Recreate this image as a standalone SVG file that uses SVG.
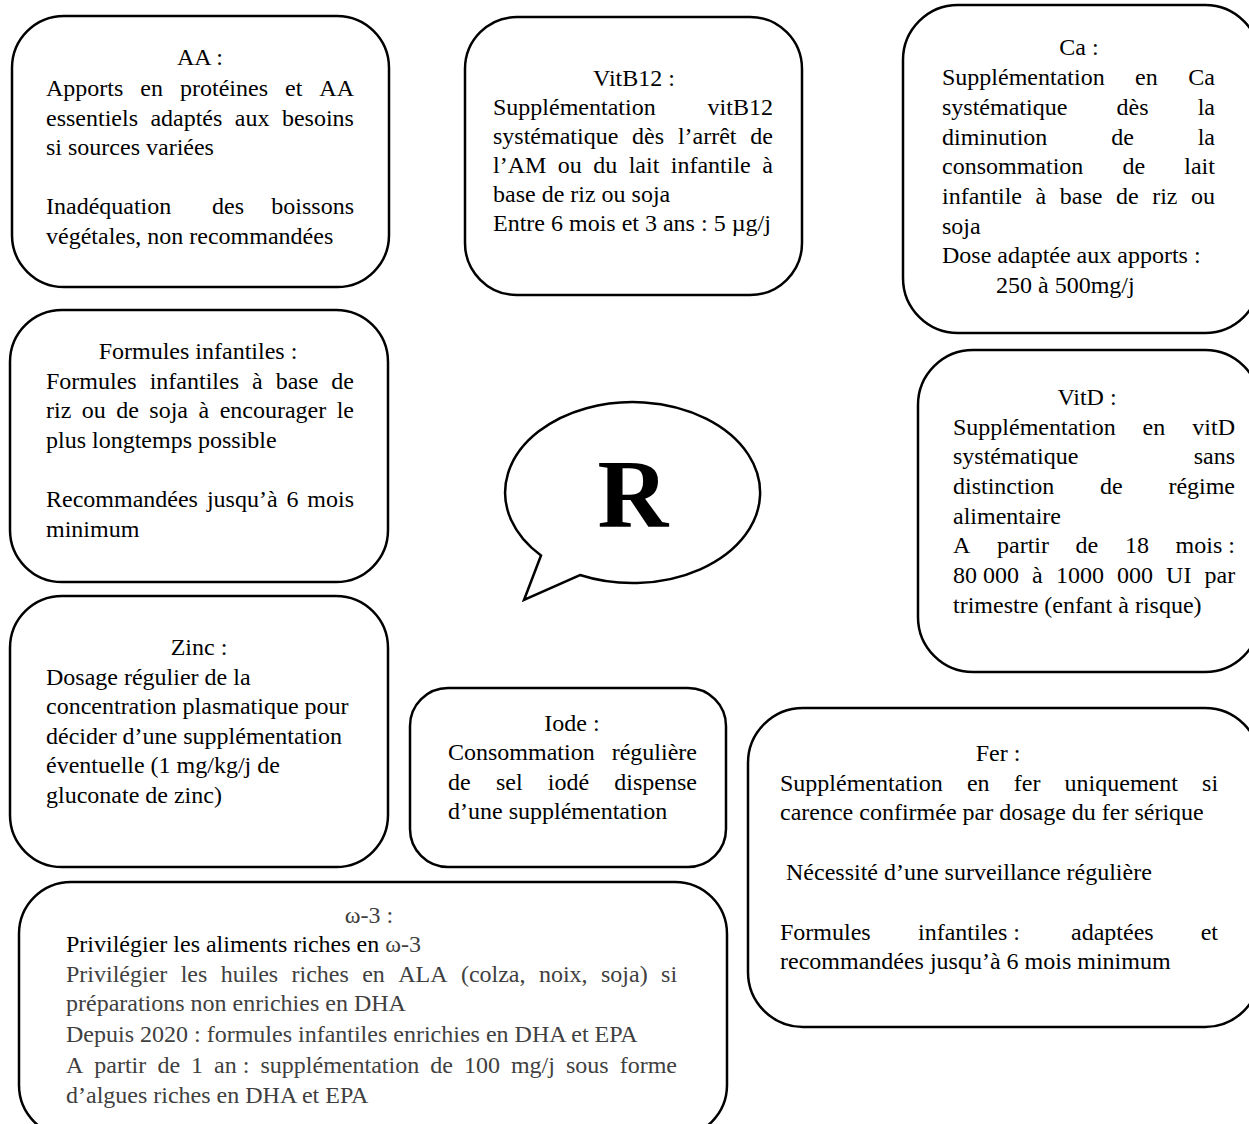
<svg xmlns="http://www.w3.org/2000/svg" width="1249" height="1124" viewBox="0 0 1249 1124">
<style>
.box{fill:#fff;stroke:#000;stroke-width:2.5}
text{font-family:"Liberation Serif","Times New Roman",serif;font-size:24px;fill:#000}
.c{text-anchor:middle}
.g{fill:#404040}
.big{font-size:98px;font-weight:bold;text-anchor:middle}
</style>
<rect width="1249" height="1124" fill="#fff"/>
<g id="connectors"/>

<g id="node-aa">
<rect class="box" x="12" y="16" width="377" height="271" rx="52"/>
<text class="c" x="200" y="65">AA :</text>
<text y="96"><tspan x="46">Apports</tspan><tspan x="140.3">en</tspan><tspan x="180">protéines</tspan><tspan x="285">et</tspan><tspan x="319.3">AA</tspan></text>
<text y="125.5"><tspan x="46">essentiels</tspan><tspan x="150.4">adaptés</tspan><tspan x="234.8">aux</tspan><tspan x="281.9">besoins</tspan></text>
<text x="46" y="155">si sources variées</text>
<text y="214"><tspan x="46">Inadéquation</tspan><tspan x="212">des</tspan><tspan x="271.3">boissons</tspan></text>
<text x="46" y="243.5">végétales, non recommandées</text>
</g>

<g id="node-vitb12">
<rect class="box" x="465" y="17" width="337" height="278" rx="52"/>
<text class="c" x="634" y="86">VitB12 :</text>
<text y="115"><tspan x="493">Supplémentation</tspan><tspan x="707.6">vitB12</tspan></text>
<text y="144"><tspan x="493">systématique</tspan><tspan x="632.1">dès</tspan><tspan x="677.9">l’arrêt</tspan><tspan x="750.3">de</tspan></text>
<text y="173"><tspan x="493">l’AM</tspan><tspan x="557.8">ou</tspan><tspan x="593.2">du</tspan><tspan x="628.7">lait</tspan><tspan x="670.8">infantile</tspan><tspan x="762.3">à</tspan></text>
<text x="493" y="202">base de riz ou soja</text>
<text x="493" y="231">Entre 6 mois et 3 ans : 5 µg/j</text>
</g>

<g id="node-ca">
<rect class="box" x="903" y="5" width="357" height="328" rx="55"/>
<text class="c" x="1079" y="55">Ca :</text>
<text y="85"><tspan x="942">Supplémentation</tspan><tspan x="1135.1">en</tspan><tspan x="1188.3">Ca</tspan></text>
<text y="115"><tspan x="942">systématique</tspan><tspan x="1116.5">dès</tspan><tspan x="1197.7">la</tspan></text>
<text y="144.5"><tspan x="942">diminution</tspan><tspan x="1111.2">de</tspan><tspan x="1197.7">la</tspan></text>
<text y="174"><tspan x="942">consommation</tspan><tspan x="1122.5">de</tspan><tspan x="1184.3">lait</tspan></text>
<text y="204"><tspan x="942">infantile</tspan><tspan x="1035.5">à</tspan><tspan x="1059.8">base</tspan><tspan x="1115.9">de</tspan><tspan x="1152.2">riz</tspan><tspan x="1191">ou</tspan></text>
<text x="942" y="233.5">soja</text>
<text x="942" y="263">Dose adaptée aux apports :</text>
<text x="996" y="293">250 à 500mg/j</text>
</g>

<g id="node-vitd">
<rect class="box" x="918" y="350" width="342" height="322" rx="55"/>
<text class="c" x="1087" y="405">VitD :</text>
<text y="434.7"><tspan x="953">Supplémentation</tspan><tspan x="1142.6">en</tspan><tspan x="1192.3">vitD</tspan></text>
<text y="464.4"><tspan x="953">systématique</tspan><tspan x="1193.7">sans</tspan></text>
<text y="494"><tspan x="953">distinction</tspan><tspan x="1100">de</tspan><tspan x="1168.4">régime</tspan></text>
<text x="953" y="523.7">alimentaire</text>
<text y="553.4"><tspan x="953">A</tspan><tspan x="997">partir</tspan><tspan x="1075.6">de</tspan><tspan x="1125">18</tspan><tspan x="1175.6">mois :</tspan></text>
<text y="583"><tspan x="953">80 000</tspan><tspan x="1032.1">à</tspan><tspan x="1055.9">1000</tspan><tspan x="1117">000</tspan><tspan x="1166.1">UI</tspan><tspan x="1204.5">par</tspan></text>
<text x="953" y="612.7">trimestre (enfant à risque)</text>
</g>

<g id="node-formules">
<rect class="box" x="10" y="310" width="378" height="272" rx="52"/>
<text class="c" x="198" y="359">Formules infantiles :</text>
<text y="389"><tspan x="46">Formules</tspan><tspan x="149.7">infantiles</tspan><tspan x="252">à</tspan><tspan x="275.7">base</tspan><tspan x="331.3">de</tspan></text>
<text y="418"><tspan x="46">riz</tspan><tspan x="81.75">ou</tspan><tspan x="116.2">de</tspan><tspan x="149.35">soja</tspan><tspan x="198.5">à</tspan><tspan x="219.65">encourager</tspan><tspan x="336.7">le</tspan></text>
<text x="46" y="448">plus longtemps possible</text>
<text y="507"><tspan x="46">Recommandées</tspan><tspan x="206.9">jusqu’à</tspan><tspan x="286.4">6</tspan><tspan x="307.3">mois</tspan></text>
<text x="46" y="537">minimum</text>
</g>

<g id="node-r">
<path class="box" d="M541 555.5 L524 600 L580 575 A127.5 90.5 0 1 0 541 555.5 Z"/>
<text class="big" x="633" y="527">R</text>
</g>

<g id="node-zinc">
<rect class="box" x="10" y="596" width="378" height="271" rx="52"/>
<text class="c" x="199" y="655">Zinc :</text>
<text x="46" y="684.5">Dosage régulier de la</text>
<text x="46" y="714">concentration plasmatique pour</text>
<text x="46" y="743.5">décider d’une supplémentation</text>
<text x="46" y="773">éventuelle (1 mg/kg/j de</text>
<text x="46" y="802.5">gluconate de zinc)</text>
</g>

<g id="node-iode">
<rect class="box" x="410" y="688" width="316" height="179" rx="38"/>
<text class="c" x="572" y="731">Iode :</text>
<text y="760"><tspan x="448">Consommation</tspan><tspan x="611.7">régulière</tspan></text>
<text y="790"><tspan x="448">de</tspan><tspan x="495.9">sel</tspan><tspan x="547.8">iodé</tspan><tspan x="614.3">dispense</tspan></text>
<text x="448" y="819">d’une supplémentation</text>
</g>

<g id="node-fer">
<rect class="box" x="748" y="708" width="512" height="319" rx="55"/>
<text class="c" x="998" y="761">Fer :</text>
<text y="791"><tspan x="780">Supplémentation</tspan><tspan x="966.9">en</tspan><tspan x="1013.8">fer</tspan><tspan x="1064.6">uniquement</tspan><tspan x="1202.1">si</tspan></text>
<text x="780" y="820">carence confirmée par dosage du fer sérique</text>
<text x="786" y="880">Nécessité d’une surveillance régulière</text>
<text y="940"><tspan x="780">Formules</tspan><tspan x="918">infantiles :</tspan><tspan x="1071">adaptées</tspan><tspan x="1200.7">et</tspan></text>
<text x="780" y="969">recommandées jusqu’à 6 mois minimum</text>
</g>

<g id="node-omega3">
<rect class="box" x="19" y="882" width="708" height="255" rx="52"/>
<text class="c g" x="369" y="923">ω-3 :</text>
<text x="66" y="952">Privilégier les aliments riches en <tspan class="g">ω-3</tspan></text>
<text class="g" y="982"><tspan x="66">Privilégier</tspan><tspan x="180.7">les</tspan><tspan x="220.8">huiles</tspan><tspan x="291.5">riches</tspan><tspan x="362.2">en</tspan><tspan x="398.2">ALA</tspan><tspan x="460.9">(colza,</tspan><tspan x="538.9">noix,</tspan><tspan x="601">soja)</tspan><tspan x="661.1">si</tspan></text>
<text class="g" x="66" y="1011">préparations non enrichies en DHA</text>
<text class="g" x="66" y="1042">Depuis 2020 : formules infantiles enrichies en DHA et EPA</text>
<text class="g" y="1073"><tspan x="66">A</tspan><tspan x="94.3">partir</tspan><tspan x="157.4">de</tspan><tspan x="191.1">1</tspan><tspan x="214.1">an :</tspan><tspan x="260.5">supplémentation</tspan><tspan x="430.2">de</tspan><tspan x="463.9">100</tspan><tspan x="510.9">mg/j</tspan><tspan x="566">sous</tspan><tspan x="619.7">forme</tspan></text>
<text class="g" x="66" y="1103">d’algues riches en DHA et EPA</text>
</g>
</svg>
